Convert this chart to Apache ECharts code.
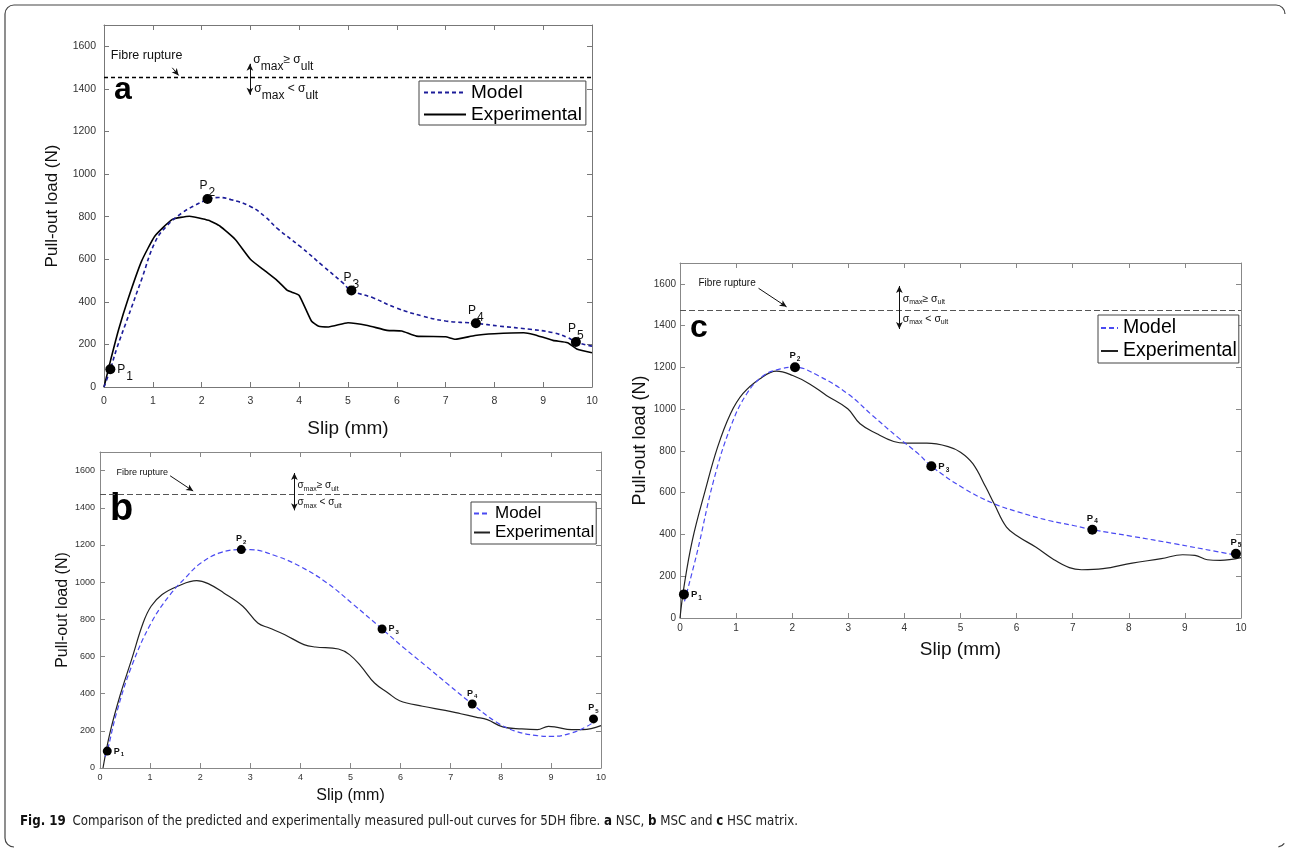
<!DOCTYPE html>
<html>
<head>
<meta charset="utf-8">
<script src="https://cdn.jsdelivr.net/npm/echarts@6/dist/echarts.min.js"></script>
<style>
  html, body { margin: 0; padding: 0; background: #fff; }
  #main { width: 1290px; height: 849px; }
</style>
</head>
<body>
<div id="main"></div>
<script>
// slip in mm, load in N
const aModelSlip = [0, 0.13, 0.26, 0.5, 0.77, 1.04, 1.28, 1.6, 1.83, 2.12, 2.35, 2.6, 3.0, 3.3, 3.55, 4.02, 4.49, 4.89, 5.07, 5.51, 5.98, 6.53, 7.0, 7.62, 8.1, 8.73, 9.2, 9.51, 9.67, 10];
const aModelLoad = [0, 83, 180, 333, 505, 677, 755, 818, 849, 880, 890, 880, 848, 800, 745, 660, 568, 490, 453, 419, 372, 333, 310, 299, 286, 271, 255, 231, 211, 192];
const aExpSlip = [0, 0.14, 0.3, 0.49, 0.77, 1.04, 1.4, 1.75, 2.14, 2.38, 2.69, 3.0, 3.3, 3.55, 3.75, 3.85, 4.0, 4.25, 4.4, 4.6, 5.0, 5.4, 5.8, 6.1, 6.4, 7.0, 7.2, 7.6, 8.0, 8.6, 8.8, 9.2, 9.5, 9.7, 10];
const aExpLoad = [0, 130, 270, 411, 591, 708, 787, 802, 783, 755, 693, 600, 545, 500, 455, 445, 430, 310, 285, 282, 302, 289, 266, 263, 239, 236, 224, 242, 250, 255, 247, 219, 208, 177, 161];
const aPointSlip = [0.13, 2.12, 5.07, 7.62, 9.67];
const aPointLoad = [83, 883, 453, 299, 211];
const aRupture = 1455;

const bModelSlip = [0.1, 0.145, 0.33, 0.63, 1.02, 1.4, 1.7, 2.0, 2.39, 2.82, 3.0, 3.53, 3.99, 4.53, 5.06, 5.63, 6.05, 6.51, 6.97, 7.43, 7.89, 8.27, 8.73, 9.03, 9.41, 9.72, 9.87];
const bModelLoad = [60, 91, 296, 547, 780, 933, 1022, 1100, 1157, 1175, 1175, 1139, 1085, 996, 879, 748, 650, 548, 445, 344, 250, 200, 174, 170, 188, 224, 250];
const bExpSlip = [0.06, 0.2, 0.4, 0.63, 0.86, 1.02, 1.24, 1.55, 1.93, 2.16, 2.47, 2.85, 3.15, 3.38, 3.69, 4.07, 4.3, 4.76, 4.98, 5.21, 5.48, 5.75, 5.98, 6.44, 6.89, 7.2, 7.5, 7.73, 8.04, 8.42, 8.73, 8.95, 9.1, 9.41, 9.64, 10];
const bExpLoad = [0, 190, 390, 583, 780, 870, 933, 978, 1008, 992, 942, 870, 780, 753, 717, 664, 651, 640, 610, 547, 457, 404, 362, 332, 310, 292, 274, 260, 221, 210, 206, 224, 220, 206, 206, 228];
const bPointSlip = [0.145, 2.82, 5.63, 7.43, 9.85];
const bPointLoad = [91, 1175, 748, 344, 264];
const bRupture = 1473;

const cModelSlip = [0.08, 0.3, 0.6, 0.9, 1.19, 1.49, 1.79, 2.05, 2.46, 2.99, 3.43, 3.88, 4.25, 4.48, 5.07, 5.6, 6.04, 6.57, 7.01, 7.35, 8.06, 8.81, 9.55, 9.93];
const cModelLoad = [80, 308, 659, 914, 1074, 1161, 1193, 1201, 1161, 1074, 970, 866, 786, 727, 619, 547, 507, 467, 443, 423, 391, 356, 319, 300];
const cExpSlip = [0, 0.07, 0.22, 0.45, 0.67, 0.9, 1.12, 1.42, 1.72, 2.01, 2.31, 2.61, 2.99, 3.21, 3.51, 3.81, 4.03, 4.4, 4.78, 5.0, 5.22, 5.45, 5.6, 5.82, 6.04, 6.34, 6.64, 6.94, 7.16, 7.54, 8.06, 8.58, 8.96, 9.18, 9.4, 9.63, 10];
const cExpLoad = [0, 148, 372, 611, 818, 978, 1074, 1145, 1182, 1161, 1121, 1066, 1002, 930, 882, 845, 837, 837, 821, 794, 739, 627, 547, 435, 388, 340, 284, 241, 231, 236, 263, 284, 303, 300, 279, 276, 289];
const cPointSlip = [0.07, 2.05, 4.48, 7.35, 9.91];
const cPointLoad = [113, 1201, 727, 423, 308];
const cRupture = 1473;

const slipMax = 10, slipStep = 1;
const loadMax = 1700, loadStep = 200;
const captionText = 'Comparison of the predicted and experimentally measured pull-out curves for 5DH fibre. ';

const FONT = '"Liberation Sans", Arial, sans-serif';
const NARROW = '"Liberation Sans Narrow", "DejaVu Sans Condensed", sans-serif';
const zip = (xs, ys) => xs.map((x, i) => [x, ys[i]]);

// layout and styling, one entry per panel
const panels = [
  {
    key: 'a', grid: { left: 104, top: 25, width: 488, height: 362 },
    model: zip(aModelSlip, aModelLoad), exp: zip(aExpSlip, aExpLoad), pts: zip(aPointSlip, aPointLoad),
    rupture: aRupture,
    axisColor: '#777', tickSize: 10.5, yMargin: 8, xMargin: 9,
    yNameGap: 43, yNameSize: 17, xNameGap: 32, xNameSize: 19,
    modelColor: '#1c1c99', modelDash: [4, 3], modelWidth: 1.6, modelSmooth: 0.45,
    expColor: '#000', expWidth: 1.6, expSmooth: 0.15,
    ruptureStyle: { type: [4, 3], color: '#000', width: 1.3 },
    arrowFR: [[1.40, 1499], [1.53, 1463]], arrowSigma: [[2.99, 1518], [2.99, 1372]],
    frText: [0.14, 1556], frSize: 12.5,
    sigUp: [3.06, 1531], sigLo: [3.08, 1398], sigSize: 12, sigSub: 12, sigDrop: 7,
    legend: { left: 419, top: 81, itemWidth: 42, itemHeight: 20, itemGap: 3, padding: [2, 4, 1, 4], fontSize: 19 },
    pSize: 12, pSub: 12, pDrop: 7, pBold: 'normal', pSymbol: 10,
    labelPos: ['right', 'top', 'top', 'top', 'top']
  },
  {
    key: 'b', grid: { left: 100, top: 452, width: 501, height: 316 },
    model: zip(bModelSlip, bModelLoad), exp: zip(bExpSlip, bExpLoad), pts: zip(bPointSlip, bPointLoad),
    rupture: bRupture,
    axisColor: '#888', tickSize: 9, yMargin: 5, xMargin: 5,
    yNameGap: 26, yNameSize: 16, xNameGap: 20, xNameSize: 16,
    modelColor: '#4a4af2', modelDash: [5, 3], modelWidth: 1.2, modelSmooth: 0.4,
    expColor: '#222', expWidth: 1.2, expSmooth: 0.4,
    ruptureStyle: { type: [6, 3], color: '#555', width: 1.1 },
    arrowFR: [[1.40, 1572], [1.86, 1490]], arrowSigma: [[3.88, 1587], [3.88, 1386]],
    frText: [0.33, 1592], frSize: 9,
    sigUp: [3.94, 1515], sigLo: [3.94, 1425], sigSize: 10, sigSub: 7, sigDrop: 5,
    legend: { left: 471, top: 502, itemWidth: 16, itemHeight: 20, itemGap: 2, padding: [3, 2, 3, 2], fontSize: 17 },
    pSize: 9, pSub: 6, pDrop: 5, pBold: 'bold', pSymbol: 9,
    labelPos: ['right', 'top', 'right', 'top', 'top']
  },
  {
    key: 'c', grid: { left: 680, top: 263, width: 561, height: 355 },
    model: zip(cModelSlip, cModelLoad), exp: zip(cExpSlip, cExpLoad), pts: zip(cPointSlip, cPointLoad),
    rupture: cRupture,
    axisColor: '#888', tickSize: 10, yMargin: 4, xMargin: 5,
    yNameGap: 31, yNameSize: 18, xNameGap: 22, xNameSize: 19,
    modelColor: '#4a4af2', modelDash: [5, 3], modelWidth: 1.2, modelSmooth: 0.4,
    expColor: '#222', expWidth: 1.2, expSmooth: 0.4,
    ruptureStyle: { type: [6, 3], color: '#555', width: 1.1 },
    arrowFR: [[1.40, 1579], [1.90, 1490]], arrowSigma: [[3.91, 1590], [3.91, 1384]],
    frText: [0.33, 1603], frSize: 10,
    sigUp: [3.97, 1523], sigLo: [3.97, 1427], sigSize: 10.5, sigSub: 7, sigDrop: 5,
    legend: { left: 1098, top: 315, itemWidth: 17, itemHeight: 22, itemGap: 3, padding: [3, 2, 2, 2], fontSize: 19.5 },
    pSize: 9.5, pSub: 6.5, pDrop: 5, pBold: 'bold', pSymbol: 10,
    labelPos: ['right', 'top', 'right', 'top', 'top']
  }
];

function sigmaRich(p) {
  return {
    g: { fontSize: p.sigSize, color: '#111', fontFamily: FONT, verticalAlign: 'top', lineHeight: p.sigSize + 2 },
    s: { fontSize: p.sigSub, color: '#111', fontFamily: FONT, verticalAlign: 'top', lineHeight: p.sigSub + 1, padding: [p.sigDrop, 0, 0, 0] }
  };
}

const grids = [], xAxes = [], yAxes = [], series = [], legends = [];

panels.forEach((p, i) => {
  grids.push(Object.assign({ containLabel: false }, p.grid));
  const line = { onZero: false, lineStyle: { color: p.axisColor, width: 1 } };
  const tick = { inside: true, length: 5, lineStyle: { color: p.axisColor } };
  xAxes.push({
    gridIndex: i, type: 'value', min: 0, max: slipMax, interval: slipStep,
    name: 'Slip (mm)', nameLocation: 'middle', nameGap: p.xNameGap,
    nameTextStyle: { fontSize: p.xNameSize, color: '#111', fontFamily: FONT },
    axisLine: line, axisTick: tick, splitLine: { show: false },
    axisLabel: { fontSize: p.tickSize, color: '#333', margin: p.xMargin, fontFamily: FONT, formatter: (v) => String(v) }
  });
  xAxes.push({
    gridIndex: i, type: 'value', position: 'top', min: 0, max: slipMax, interval: slipStep,
    axisLine: line, axisTick: tick, splitLine: { show: false }, axisLabel: { show: false }
  });
  yAxes.push({
    gridIndex: i, type: 'value', min: 0, max: loadMax, interval: loadStep,
    name: 'Pull-out load (N)', nameLocation: 'middle', nameGap: p.yNameGap,
    nameTextStyle: { fontSize: p.yNameSize, color: '#111', fontFamily: FONT },
    axisLine: line, axisTick: tick, splitLine: { show: false },
    axisLabel: { fontSize: p.tickSize, color: '#333', margin: p.yMargin, fontFamily: FONT, showMaxLabel: false, formatter: (v) => String(v) }
  });
  yAxes.push({
    gridIndex: i, type: 'value', position: 'right', min: 0, max: loadMax, interval: loadStep,
    axisLine: line, axisTick: tick, splitLine: { show: false }, axisLabel: { show: false }
  });

  const ax = { xAxisIndex: 2 * i, yAxisIndex: 2 * i };
  const rich = sigmaRich(p);

  series.push(Object.assign({
    name: 'Model ' + p.key, type: 'line', data: p.model, smooth: p.modelSmooth,
    symbol: 'none', z: 3,
    lineStyle: { color: p.modelColor, width: p.modelWidth, type: p.modelDash },
    itemStyle: { color: p.modelColor }
  }, ax));

  series.push(Object.assign({
    name: 'Experimental ' + p.key, type: 'line', data: p.exp, smooth: p.expSmooth,
    symbol: 'none', z: 2,
    lineStyle: { color: p.expColor, width: p.expWidth },
    itemStyle: { color: p.expColor },
    markLine: {
      silent: true, animation: false, symbol: ['none', 'none'], symbolSize: [6, 8],
      label: { show: false }, lineStyle: { color: '#111', width: 1, type: 'solid' },
      data: [
        { yAxis: p.rupture, lineStyle: p.ruptureStyle },
        [{ coord: p.arrowFR[0], symbol: 'none' }, { coord: p.arrowFR[1], symbol: 'arrow', symbolSize: [5, 7] }],
        [{ coord: p.arrowSigma[0], symbol: 'arrow', symbolSize: [5, 7] }, { coord: p.arrowSigma[1], symbol: 'arrow', symbolSize: [5, 7] }]
      ]
    },
    markPoint: {
      silent: true, animation: false, symbol: 'circle', symbolSize: 0,
      itemStyle: { color: 'rgba(0,0,0,0)' },
      data: [
        { coord: p.frText, label: { show: true, position: 'right', distance: 0, formatter: 'Fibre rupture', fontSize: p.frSize, color: '#111', fontFamily: FONT } },
        { coord: p.sigUp, label: { show: true, position: 'right', distance: 0, formatter: '{g|σ}{s|max}{g|≥ σ}{s|ult}', rich: rich } },
        { coord: p.sigLo, label: { show: true, position: 'right', distance: 0, formatter: '{g|σ}{s|max}{g| < σ}{s|ult}', rich: rich } }
      ]
    }
  }, ax));

  series.push(Object.assign({
    name: 'P ' + p.key, type: 'scatter', z: 5, symbolSize: p.pSymbol,
    itemStyle: { color: '#000', opacity: 1 },
    data: p.pts.map((v, k) => ({ value: v, label: { position: p.labelPos[k] } })),
    label: {
      show: true, distance: 2,
      formatter: (d) => '{p|P}{s|' + (d.dataIndex + 1) + '}',
      rich: {
        p: { fontSize: p.pSize, fontWeight: p.pBold, color: '#111', fontFamily: FONT, verticalAlign: 'top', lineHeight: p.pSize },
        s: { fontSize: p.pSub, fontWeight: p.pBold, color: '#111', fontFamily: FONT, verticalAlign: 'top', lineHeight: p.pSub, padding: [p.pDrop, 0, 0, 1] }
      }
    }
  }, ax));

  legends.push({
    orient: 'vertical', left: p.legend.left, top: p.legend.top, padding: p.legend.padding,
    itemWidth: p.legend.itemWidth, itemHeight: p.legend.itemHeight, itemGap: p.legend.itemGap,
    itemStyle: { opacity: 0 },
    borderColor: '#444', borderWidth: 1, backgroundColor: '#fff', selectedMode: false,
    data: ['Model ' + p.key, 'Experimental ' + p.key],
    formatter: (n) => n.split(' ')[0],
    textStyle: { fontSize: p.legend.fontSize, color: '#000', fontFamily: FONT }
  });
});

const panelLetters = [
  { text: 'a', x: 114, y: 90, size: 32 },
  { text: 'b', x: 110, y: 510, size: 38 },
  { text: 'c', x: 690, y: 328, size: 32 }
];

const frameStyle = { stroke: '#444', lineWidth: 1.2, fill: null };
const frame = [
  { type: 'line', shape: { x1: 5, y1: 14, x2: 5, y2: 838 } },
  { type: 'line', shape: { x1: 14, y1: 5, x2: 1276, y2: 5 } },
  { type: 'arc', shape: { cx: 14, cy: 14, r: 9, startAngle: Math.PI, endAngle: Math.PI * 1.5 } },
  { type: 'arc', shape: { cx: 14, cy: 838, r: 9, startAngle: Math.PI * 0.5, endAngle: Math.PI } },
  { type: 'arc', shape: { cx: 1276, cy: 14, r: 9, startAngle: Math.PI * 1.5, endAngle: Math.PI * 2 } },
  { type: 'arc', shape: { cx: 1277, cy: 838, r: 9, startAngle: Math.PI * 0.2, endAngle: Math.PI * 0.45 } }
].map((g) => Object.assign(g, { silent: true, style: frameStyle }));

const chart = echarts.init(document.getElementById('main'), null, { renderer: 'canvas' });
chart.setOption({
  animation: false,
  backgroundColor: '#fff',
  textStyle: { fontFamily: FONT },
  grid: grids, xAxis: xAxes, yAxis: yAxes, series: series, legend: legends,
  graphic: frame.concat(
    panelLetters.map((l) => ({
      type: 'text', silent: true, x: l.x, y: l.y,
      style: { text: l.text, font: 'bold ' + l.size + 'px ' + FONT, fill: '#000', verticalAlign: 'middle' }
    })),
    [{
      type: 'text', silent: true, x: 20, y: 822,
      style: {
        text: '{b|Fig. 19}  {n|' + captionText + '}{b|a}{n| NSC, }{b|b}{n| MSC and }{b|c}{n| HSC matrix.}',
        verticalAlign: 'middle',
        rich: {
          b: { fontSize: 13.2, fontWeight: 'bold', fill: '#111', fontFamily: NARROW },
          n: { fontSize: 13.2, fill: '#222', fontFamily: NARROW }
        }
      }
    }]
  )
});
</script>
</body>
</html>
